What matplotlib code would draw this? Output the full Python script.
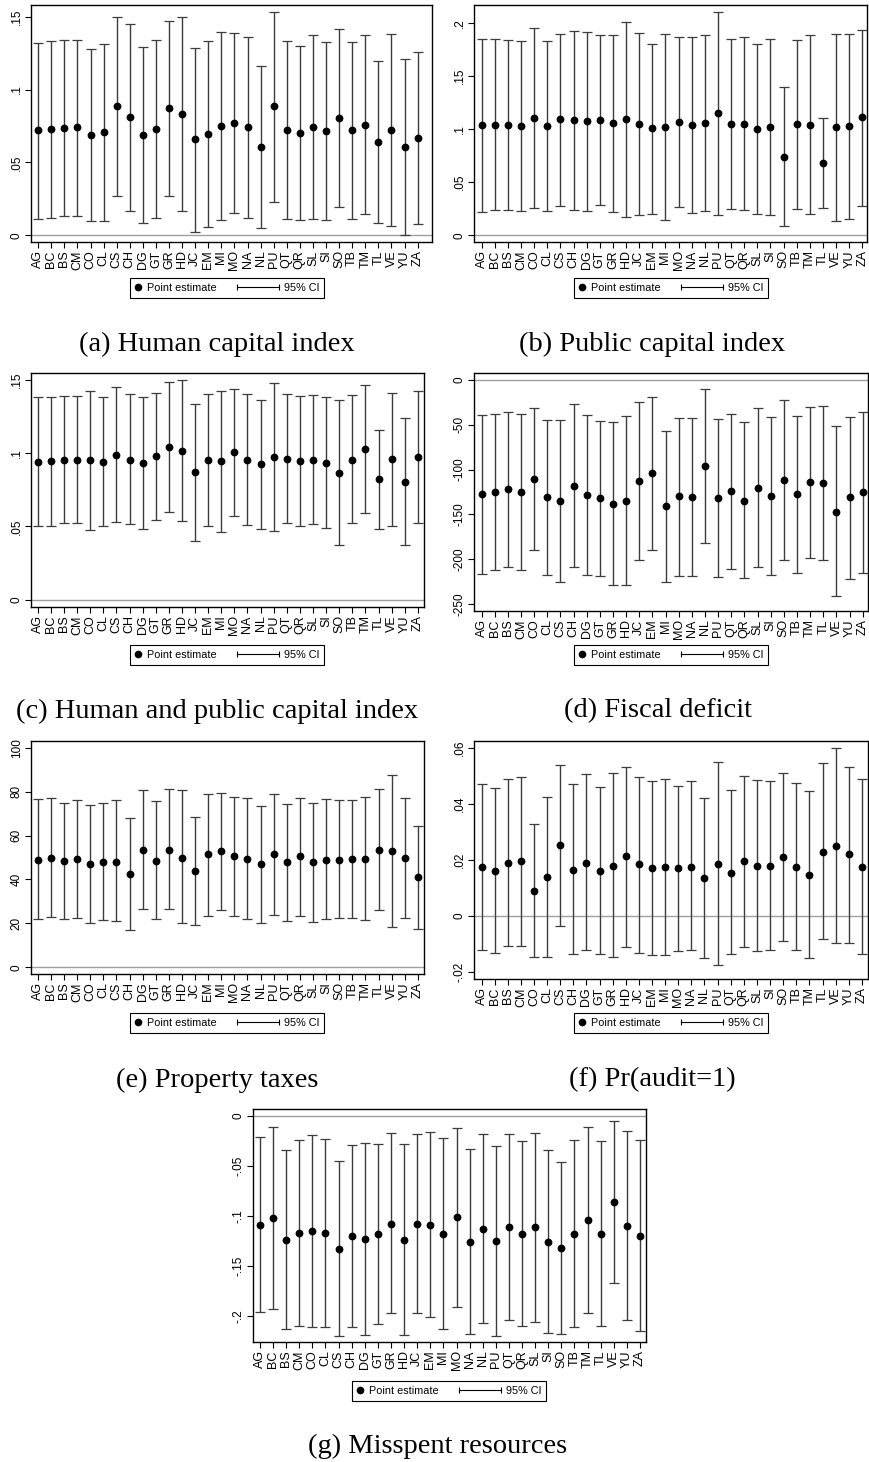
import numpy as np
import matplotlib
matplotlib.use('Agg')
import matplotlib.pyplot as plt
from matplotlib.lines import Line2D
from matplotlib.legend_handler import HandlerBase

plt.rcParams['font.family'] = ['Liberation Sans', 'DejaVu Sans']

states = ['AG', 'BC', 'BS', 'CM', 'CO', 'CL', 'CS', 'CH', 'DG', 'GT', 'GR', 'HD', 'JC', 'EM', 'MI',
          'MO', 'NA', 'NL', 'PU', 'QT', 'QR', 'SL', 'SI', 'SO', 'TB', 'TM', 'TL', 'VE', 'YU', 'ZA']

# (a) Human capital index
est_a = [0.072, 0.073, 0.0735, 0.074, 0.069, 0.071, 0.0885, 0.081, 0.069, 0.073, 0.087, 0.0835, 0.066, 0.0695, 0.075,
         0.077, 0.074, 0.0605, 0.0885, 0.072, 0.070, 0.074, 0.0715, 0.0805, 0.072, 0.076, 0.064, 0.072, 0.0605, 0.0665]
lo_a = [0.011, 0.012, 0.013, 0.0135, 0.0095, 0.010, 0.027, 0.0165, 0.0085, 0.012, 0.027, 0.017, 0.0025, 0.0055, 0.0105,
        0.015, 0.012, 0.005, 0.023, 0.0115, 0.0105, 0.011, 0.0105, 0.0195, 0.0115, 0.0145, 0.0085, 0.0065, 0.0005, 0.008]
hi_a = [0.132, 0.133, 0.134, 0.134, 0.1275, 0.131, 0.150, 0.145, 0.1295, 0.134, 0.147, 0.150, 0.1285, 0.133, 0.1395,
        0.139, 0.136, 0.116, 0.1535, 0.133, 0.130, 0.1375, 0.1325, 0.1415, 0.1325, 0.1375, 0.1195, 0.138, 0.121, 0.1255]

# (b) Public capital index
est_b = [0.1035, 0.104, 0.1035, 0.103, 0.110, 0.103, 0.109, 0.1085, 0.1075, 0.1085, 0.1055, 0.1095, 0.105, 0.1005, 0.102,
         0.107, 0.104, 0.1055, 0.115, 0.105, 0.105, 0.100, 0.102, 0.074, 0.1045, 0.104, 0.068, 0.102, 0.1025, 0.111]
lo_b = [0.022, 0.0235, 0.0235, 0.023, 0.0255, 0.0225, 0.028, 0.024, 0.023, 0.029, 0.022, 0.017, 0.0195, 0.0205, 0.0145,
        0.027, 0.0215, 0.0225, 0.0195, 0.025, 0.0235, 0.0205, 0.019, 0.0085, 0.0245, 0.020, 0.0255, 0.014, 0.015, 0.028]
hi_b = [0.185, 0.1845, 0.1835, 0.1825, 0.195, 0.183, 0.1895, 0.1925, 0.191, 0.188, 0.188, 0.201, 0.190, 0.1795, 0.1895,
        0.1865, 0.1865, 0.188, 0.210, 0.185, 0.1865, 0.1795, 0.185, 0.1395, 0.184, 0.188, 0.110, 0.189, 0.189, 0.1935]

# (c) Human and public capital index
est_c = [0.094, 0.0945, 0.0955, 0.0955, 0.095, 0.094, 0.099, 0.0955, 0.0935, 0.098, 0.104, 0.1015, 0.087, 0.095, 0.0945,
         0.1005, 0.0955, 0.0925, 0.0975, 0.096, 0.0945, 0.0955, 0.0935, 0.0865, 0.0955, 0.103, 0.0825, 0.096, 0.0805, 0.0975]
lo_c = [0.050, 0.0505, 0.052, 0.052, 0.0475, 0.050, 0.053, 0.0515, 0.0485, 0.054, 0.0595, 0.0535, 0.040, 0.050, 0.046,
        0.057, 0.051, 0.0485, 0.0465, 0.0525, 0.0505, 0.0515, 0.049, 0.037, 0.052, 0.059, 0.0485, 0.050, 0.037, 0.0525]
hi_c = [0.138, 0.1385, 0.139, 0.139, 0.142, 0.138, 0.145, 0.140, 0.1385, 0.141, 0.1485, 0.1495, 0.1335, 0.140, 0.1425,
        0.1435, 0.140, 0.1365, 0.148, 0.140, 0.139, 0.1395, 0.1385, 0.1365, 0.1395, 0.1465, 0.116, 0.141, 0.124, 0.1425]

# (d) Fiscal deficit
est_d = [-127, -125, -122, -125, -111, -131, -135, -118, -128, -132, -138, -135, -113, -104, -141,
         -130, -131, -96, -132, -124, -135, -120, -129, -112, -127, -114, -115, -147, -131, -125]
lo_d = [-216, -212, -209, -212, -190, -217, -225, -208, -217, -218, -229, -229, -201, -190, -225,
        -218, -219, -182, -220, -211, -221, -208, -217, -201, -215, -198, -201, -241, -222, -215]
hi_d = [-39, -38, -36, -38, -32, -45, -45, -27, -39, -46, -47, -40, -25, -19, -57,
        -43, -43, -10, -44, -38, -47, -32, -41, -23, -40, -30, -29, -52, -41, -36]

# (e) Property taxes
est_e = [49, 50, 48.5, 49.5, 47, 48, 48, 42.5, 53.5, 48.5, 53.5, 50, 44, 51.5, 53,
         50.5, 49.5, 47, 51.5, 48, 50.5, 48, 49, 49, 49.5, 49.5, 53.5, 53, 50, 41]
lo_e = [22, 23, 22, 22.5, 20, 21.5, 21, 17, 26.5, 22, 26.5, 20, 19.5, 23.5, 26,
        23.5, 22, 20, 24, 21, 23.5, 20.5, 22, 22.5, 22.5, 21.5, 26, 18.5, 22.5, 17.5]
hi_e = [76.5, 77, 75, 76, 74, 75, 76, 68, 80.5, 75.5, 81, 80.5, 68.5, 79, 79.5,
        77.5, 77, 73.5, 79, 74.5, 77, 75, 76.5, 76, 76, 77.5, 81, 87.5, 77, 64.5]

# (f) Pr(audit=1)
est_f = [0.0175, 0.016, 0.019, 0.0195, 0.009, 0.014, 0.0255, 0.0165, 0.019, 0.016, 0.018, 0.0215, 0.0185, 0.017, 0.0175,
         0.017, 0.0175, 0.0135, 0.0185, 0.0155, 0.0195, 0.018, 0.018, 0.021, 0.0175, 0.0145, 0.023, 0.025, 0.022, 0.0175]
lo_f = [-0.012, -0.013, -0.0105, -0.0105, -0.0145, -0.0145, -0.0035, -0.0135, -0.012, -0.0135, -0.0145, -0.011, -0.013,
        -0.014, -0.014, -0.0125, -0.012, -0.015, -0.0175, -0.0135, -0.011, -0.0125, -0.012, -0.009, -0.012, -0.015,
        -0.008, -0.0095, -0.0095, -0.0135]
hi_f = [0.047, 0.0455, 0.049, 0.0495, 0.033, 0.0425, 0.054, 0.047, 0.0505, 0.046, 0.051, 0.053, 0.0495, 0.048, 0.049,
        0.0465, 0.048, 0.042, 0.055, 0.045, 0.050, 0.0485, 0.048, 0.051, 0.0475, 0.0445, 0.0545, 0.060, 0.053, 0.049]

# (g) Misspent resources
est_g = [-0.109, -0.102, -0.124, -0.117, -0.115, -0.117, -0.133, -0.120, -0.123, -0.118, -0.108, -0.124, -0.108, -0.109,
         -0.118, -0.101, -0.126, -0.113, -0.125, -0.111, -0.118, -0.111, -0.126, -0.132, -0.118, -0.104, -0.118, -0.086,
         -0.110, -0.120]
lo_g = [-0.196, -0.193, -0.213, -0.210, -0.211, -0.211, -0.220, -0.211, -0.219, -0.208, -0.197, -0.219, -0.197, -0.201,
        -0.213, -0.191, -0.218, -0.207, -0.220, -0.204, -0.210, -0.206, -0.217, -0.218, -0.211, -0.197, -0.210, -0.167,
        -0.204, -0.215]
hi_g = [-0.021, -0.011, -0.034, -0.024, -0.019, -0.023, -0.045, -0.029, -0.027, -0.028, -0.017, -0.028, -0.018, -0.016,
        -0.022, -0.012, -0.033, -0.018, -0.030, -0.018, -0.025, -0.017, -0.034, -0.046, -0.024, -0.011, -0.025, -0.005,
        -0.015, -0.024]

captions = ['(a) Human capital index', '(b) Public capital index', '(c) Human and public capital index',
            '(d) Fiscal deficit', '(e) Property taxes', '(f) Pr(audit=1)', '(g) Misspent resources']

yticks = {
    'a': ([0, 0.05, 0.1, 0.15], ['0', '.05', '.1', '.15']),
    'b': ([0, 0.05, 0.1, 0.15, 0.2], ['0', '.05', '.1', '.15', '.2']),
    'c': ([0, 0.05, 0.1, 0.15], ['0', '.05', '.1', '.15']),
    'd': ([-250, -200, -150, -100, -50, 0], ['-250', '-200', '-150', '-100', '-50', '0']),
    'e': ([0, 20, 40, 60, 80, 100], ['0', '20', '40', '60', '80', '100']),
    'f': ([-0.02, 0, 0.02, 0.04, 0.06], ['-.02', '0', '.02', '.04', '.06']),
    'g': ([-0.2, -0.15, -0.1, -0.05, 0], ['-.2', '-.15', '-.1', '-.05', '0']),
}

W, H = 869, 1462

# layout in pixels: axes box (left, top, right, bottom), axis limits, legend centre, caption centre
panels = [
    ('a', est_a, lo_a, hi_a, (31, 5, 432, 242), (-0.55, 30.1), (-0.0046, 0.158), (227, 288), (217, 344)),
    ('b', est_b, lo_b, hi_b, (474, 5, 867, 242), (-0.58, 29.35), (-0.0062, 0.2166), (671, 288), (652, 344)),
    ('c', est_c, lo_c, hi_c, (31, 373, 424, 607), (-0.52, 29.47), (-0.005, 0.1546), (227, 655), (217, 711)),
    ('d', est_d, lo_d, hi_d, (474, 373, 868, 611), (-0.58, 29.4), (-257.4, 7.4), (671, 655), (658, 711)),
    ('e', est_e, lo_e, hi_e, (31, 741, 424, 974), (-0.52, 29.47), (-3, 103), (227, 1023), (217, 1080)),
    ('f', est_f, lo_f, hi_f, (474, 741, 868, 979), (-0.58, 29.47), (-0.0224, 0.0624), (671, 1023), (652, 1080)),
    ('g', est_g, lo_g, hi_g, (253, 1109, 646, 1342), (-0.53, 29.46), (-0.226, 0.0067), (449, 1391), (438, 1446)),
]


class DotHandler(HandlerBase):
    def create_artists(self, legend, orig_handle, xdescent, ydescent, width, height, fontsize, trans):
        m = Line2D([-xdescent + width / 2], [height / 2 - ydescent], ls='none', marker='o',
                   ms=4.5, color='black', transform=trans)
        return [m]


class CIHandler(HandlerBase):
    def create_artists(self, legend, orig_handle, xdescent, ydescent, width, height, fontsize, trans):
        y = height / 2 - ydescent
        x1 = -xdescent + width
        x0 = x1 - 3.9 * fontsize
        ln = Line2D([x0, x1], [y, y], color='black', lw=0.8, marker='|', ms=5, mew=0.8, transform=trans)
        return [ln]


fig = plt.figure(figsize=(W / 100, H / 100), dpi=100)
x = np.arange(len(states))

for i, (key, est, lo, hi, box, xl, yl, leg_c, cap_c) in enumerate(panels):
    l, t, r, b = box
    ax = fig.add_axes([l / W, 1 - b / H, (r - l) / W, (b - t) / H])
    est = np.array(est)
    err = [est - np.array(lo), np.array(hi) - est]
    ax.axhline(0, color='#a0a0a0', lw=1.0, zorder=1)
    ax.errorbar(x, est, yerr=err, fmt='none', ecolor='#3c3c3c', elinewidth=1.0, capsize=3.3, capthick=0.9, zorder=2)
    ax.plot(x, est, 'o', color='black', ms=4.6, zorder=3)
    ax.set_xlim(*xl)
    ax.set_ylim(*yl)
    ax.set_xticks(x)
    ax.set_xticklabels(states, rotation=90, fontsize=9)
    ax.set_yticks(yticks[key][0])
    ax.set_yticklabels(yticks[key][1], rotation=90, va='center', fontsize=8.5)
    ax.tick_params(direction='out', length=4, width=0.8, pad=2)
    for s in ax.spines.values():
        s.set_linewidth(1.0)
        s.set_color('black')

    h_dot = Line2D([], [])
    h_ci = Line2D([], [])
    leg = ax.legend([h_dot, h_ci], ['Point estimate', '95% CI'],
                    handler_map={h_dot: DotHandler(), h_ci: CIHandler()},
                    ncol=2, fontsize=7.8, handlelength=0.7, handletextpad=0.45, columnspacing=5.05,
                    borderpad=0.45, fancybox=False, framealpha=1, edgecolor='black',
                    loc='center', bbox_to_anchor=(leg_c[0] / W, 1 - leg_c[1] / H),
                    bbox_transform=fig.transFigure)
    leg.get_frame().set_linewidth(0.8)

    fig.text(cap_c[0] / W, 1 - cap_c[1] / H, captions[i], ha='center', va='center',
             family='Liberation Serif', fontsize=20.5)

fig.savefig('out.png', dpi=100)
